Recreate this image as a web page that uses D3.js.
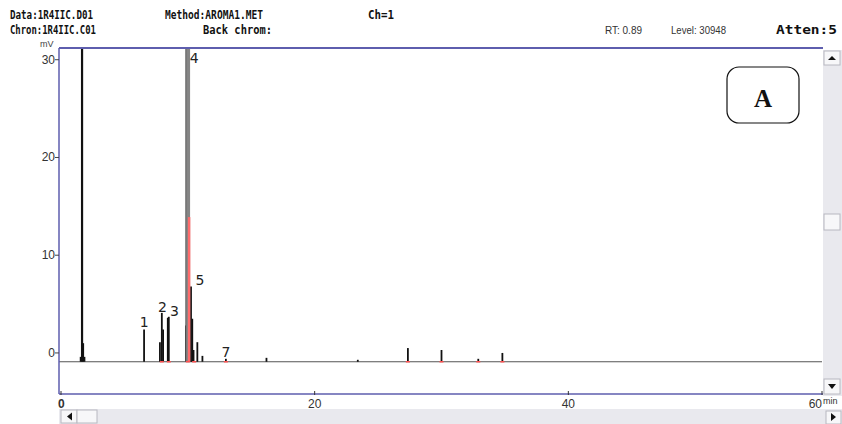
<!DOCTYPE html>
<html><head><meta charset="utf-8">
<script src="https://cdn.jsdelivr.net/npm/d3@7/dist/d3.min.js"></script>
<style>html,body{margin:0;padding:0;background:#fff;overflow:hidden}</style>
</head><body><svg id="c" width="842" height="424"></svg>
<script>
// ---- data ----
const peakTimes   = [1.55, 1.66, 1.75, 1.85, 6.55, 7.8, 7.95, 8.05, 8.42, 8.5, 9.85, 10.0, 10.25, 10.35, 10.45, 10.75, 11.15, 13.0, 16.2, 23.4, 27.35, 30.0, 32.9, 34.8];
const peakHeights = [-0.4, 40, 1.0, -0.4, 2.4, 1.1, 4.1, 2.4, 3.6, 3.7, 2.8, 40, 6.8, 3.5, 0.3, 1.1, -0.3, -0.6, -0.5, -0.7, 0.5, 0.3, -0.6, 0.0];
const baselineValue = -0.9;
const redTime = 10.1, redTop = 13.9;
const peakLabels = [{t:6.2, v:2.7, s:"1"}, {t:7.65, v:4.2, s:"2"}, {t:8.6, v:3.8, s:"3"}, {t:10.15, v:29.7, s:"4"}, {t:10.6, v:7.0, s:"5"}, {t:12.65, v:-0.4, s:"7"}];
const xTicks = [0, 20, 40, 60];
const yTicks = [0, 10, 20, 30];

const svg = d3.select("#c");
const L = 59, R = 822, T = 48, B = 394;
const x = d3.scaleLinear().domain([0, 60]).range([61, 822]);
const y = d3.scaleLinear().domain([-4.2, 31.2]).range([B, T]);
const blue = "#5e5eae";

// header
const hdr = [
  {s:"Data:1R4IIC.D01", x:10, y:19, w:83},
  {s:"Method:AROMA1.MET", x:165, y:19, w:98},
  {s:"Ch=1", x:368, y:19, w:26},
  {s:"Chron:1R4IIC.C01", x:10, y:34, w:86},
  {s:"Back chrom:", x:203, y:34, w:69},
  {s:"Atten:5", x:776, y:34, w:61}
];
hdr.forEach(h => svg.append("text").attr("x", h.x).attr("y", h.y).text(h.s)
  .attr("font-family", "DejaVu Sans Mono").attr("font-weight", "bold").attr("font-size", 12.5)
  .attr("textLength", h.w).attr("lengthAdjust", "spacingAndGlyphs").attr("fill", "#111"));
[{s:"RT: 0.89", x:605, w:37}, {s:"Level: 30948", x:671, w:55}].forEach(h =>
  svg.append("text").attr("x", h.x).attr("y", 34).text(h.s)
    .attr("font-family", "Liberation Sans").attr("font-size", 11.5)
    .attr("textLength", h.w).attr("lengthAdjust", "spacingAndGlyphs").attr("fill", "#333"));
svg.append("text").attr("x", 40).attr("y", 47).text("mV")
  .attr("font-family", "Liberation Sans").attr("font-size", 9).attr("fill", "#444");

// clip
svg.append("clipPath").attr("id", "pc").append("rect").attr("x", L).attr("y", T).attr("width", R - L).attr("height", B - T);
const g = svg.append("g").attr("clip-path", "url(#pc)");

// baseline
g.append("line").attr("x1", L).attr("x2", R).attr("y1", y(baselineValue)).attr("y2", y(baselineValue))
  .attr("stroke", "#555").attr("stroke-width", 1.2);

// peaks
peakTimes.forEach((t, i) => {
  const big = i === 11;
  g.append("line").attr("x1", x(t)).attr("x2", x(t)).attr("y1", y(baselineValue)).attr("y2", y(peakHeights[i]))
    .attr("stroke", big ? "#858585" : "#111").attr("stroke-width", big ? 4.5 : (peakHeights[i] > 20 ? 2.2 : 1.8));
});
// edge of big peak
g.append("line").attr("x1", x(10.0) - 2).attr("x2", x(10.0) - 2).attr("y1", y(baselineValue)).attr("y2", T)
  .attr("stroke", "#555").attr("stroke-width", 0.8);
// red overlay
g.append("line").attr("x1", x(redTime)).attr("x2", x(redTime)).attr("y1", y(baselineValue)).attr("y2", y(redTop))
  .attr("stroke", "#ff6b6b").attr("stroke-width", 2.5);
// small red integration marks
[7.95, 8.5, 10.0, 10.5, 13.0, 27.35, 30.0, 32.9, 34.8].forEach(t =>
  g.append("line").attr("x1", x(t) - 2).attr("x2", x(t) + 2).attr("y1", y(baselineValue)).attr("y2", y(baselineValue))
    .attr("stroke", "#ff5050").attr("stroke-width", 1.5));

// peak labels
peakLabels.forEach(p => svg.append("text").attr("x", x(p.t)).attr("y", y(p.v)).text(p.s)
  .attr("font-family", "DejaVu Sans").attr("font-size", 14).attr("fill", "#222"));

// axes lines
svg.append("line").attr("x1", L).attr("x2", L).attr("y1", T).attr("y2", B).attr("stroke", blue).attr("stroke-width", 1.5);
svg.append("line").attr("x1", L).attr("x2", R + 1).attr("y1", T).attr("y2", T).attr("stroke", blue).attr("stroke-width", 2);
svg.append("line").attr("x1", L).attr("x2", R + 1).attr("y1", B).attr("y2", B).attr("stroke", blue).attr("stroke-width", 1.5);

// y ticks
yTicks.forEach(v => {
  svg.append("line").attr("x1", L - 4).attr("x2", L).attr("y1", y(v)).attr("y2", y(v)).attr("stroke", "#444");
  svg.append("text").attr("x", L - 4).attr("y", y(v) + 4).attr("text-anchor", "end").text(v)
    .attr("font-family", "Liberation Sans").attr("font-size", 12).attr("fill", "#333");
});
// x ticks
xTicks.forEach(v => {
  svg.append("line").attr("x1", x(v)).attr("x2", x(v)).attr("y1", B - 3).attr("y2", B + 1).attr("stroke", "#333");
  svg.append("text").attr("x", v === 0 ? x(v) - 3 : x(v)).attr("y", 408)
    .attr("text-anchor", v === 0 ? "start" : (v === 60 ? "end" : "middle")).text(v)
    .attr("font-family", "Liberation Sans").attr("font-size", 12).attr("fill", "#333")
    .attr("font-weight", v === 0 ? "bold" : "normal");
});
svg.append("text").attr("x", 823).attr("y", 404).text("min")
  .attr("font-family", "Liberation Sans").attr("font-size", 9).attr("fill", "#333");

// "A" box
svg.append("rect").attr("x", 727).attr("y", 67).attr("width", 72).attr("height", 56).attr("rx", 12)
  .attr("fill", "#fff").attr("stroke", "#111").attr("stroke-width", 1.2);
svg.append("text").attr("x", 763).attr("y", 107).attr("text-anchor", "middle").text("A")
  .attr("font-family", "Liberation Serif").attr("font-weight", "bold").attr("font-size", 25).attr("fill", "#111");

// scrollbars
const sb = "#e9e9ee";
svg.append("rect").attr("x", 823).attr("y", 50).attr("width", 19).attr("height", 346).attr("fill", sb);
svg.append("rect").attr("x", 59).attr("y", 409).attr("width", 783).attr("height", 15).attr("fill", sb);
function btn(bx, by, w, h, pts) {
  svg.append("rect").attr("x", bx).attr("y", by).attr("width", w).attr("height", h)
    .attr("fill", "#f7f7f9").attr("stroke", "#b8b8c0").attr("stroke-width", 1);
  if (pts) svg.append("path").attr("d", pts).attr("fill", "#111");
}
btn(824, 51, 16, 14, "M828,60 L836,60 L832,56 Z");
btn(824, 214, 16, 16, null);
btn(824, 379, 16, 15, "M828,384 L836,384 L832,389 Z");
btn(61, 410, 16, 13, "M67,416.5 L72,412.5 L72,420.5 Z");
btn(77, 410, 20, 13, null);
btn(826, 411, 15, 13, "M831,413 L831,421 L836,417 Z");
</script></body></html>
